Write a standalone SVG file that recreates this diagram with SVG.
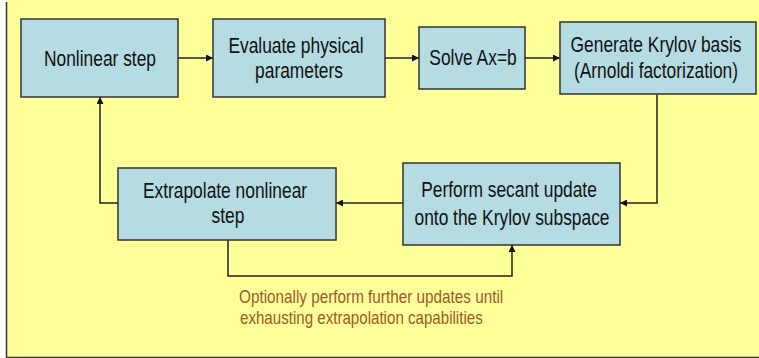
<svg xmlns="http://www.w3.org/2000/svg" width="759" height="358" viewBox="0 0 759 358">
<style>
.box{fill:#B5DCE2;stroke:#333;stroke-width:1.5}
.lbl{font-family:"Liberation Sans",Arial,sans-serif;font-size:22px;fill:#111;text-anchor:middle}
.note{font-family:"Liberation Sans",Arial,sans-serif;font-size:18px;fill:#9B5A2A}
.conn{fill:none;stroke:#222;stroke-width:1.5}
</style>
<defs>
<marker id="ah" viewBox="0 0 10 10" refX="10" refY="5" markerWidth="7" markerHeight="7" markerUnits="userSpaceOnUse" orient="auto">
<path d="M0,0 L10,5 L0,10 z" fill="#111"/>
</marker>
</defs>
<rect x="0" y="0" width="759" height="358" fill="#FFFFFF"/>
<rect x="6" y="0" width="753" height="357" fill="#FFFF99"/>
<path d="M6.5,2 V357.5 H759" fill="none" stroke="#333" stroke-width="1.5"/>

<g id="connectors">
<line class="conn" x1="178" y1="58" x2="213" y2="58" marker-end="url(#ah)"/>
<line class="conn" x1="385" y1="58" x2="419" y2="58" marker-end="url(#ah)"/>
<line class="conn" x1="525" y1="58" x2="560" y2="58" marker-end="url(#ah)"/>
<polyline class="conn" points="657,94 657,203 620,203" marker-end="url(#ah)"/>
<line class="conn" x1="403" y1="203" x2="336" y2="203" marker-end="url(#ah)"/>
<polyline class="conn" points="118,203 100,203 100,97" marker-end="url(#ah)"/>
<polyline class="conn" points="228,240 228,276 512,276 512,245" marker-end="url(#ah)"/>
</g>

<g id="n1">
<rect class="box" x="21" y="19" width="157" height="78"/>
<text class="lbl" transform="translate(100,66) scale(0.79,1)">Nonlinear step</text>
</g>
<g id="n2">
<rect class="box" x="213" y="19" width="172" height="78"/>
<text class="lbl" transform="translate(296,53) scale(0.79,1)">Evaluate physical</text>
<text class="lbl" transform="translate(299,78) scale(0.79,1)">parameters</text>
</g>
<g id="n3">
<rect class="box" x="419" y="27" width="106" height="62"/>
<text class="lbl" transform="translate(473,65) scale(0.79,1)">Solve Ax=b</text>
</g>
<g id="n4">
<rect class="box" x="560" y="22" width="196" height="72"/>
<text class="lbl" transform="translate(656,52) scale(0.79,1)">Generate Krylov basis</text>
<text class="lbl" transform="translate(656,78) scale(0.79,1)">(Arnoldi factorization)</text>
</g>
<g id="n5">
<rect class="box" x="403" y="163" width="217" height="82"/>
<text class="lbl" transform="translate(509,197) scale(0.79,1)">Perform secant update</text>
<text class="lbl" transform="translate(512,225) scale(0.79,1)">onto the Krylov subspace</text>
</g>
<g id="n6">
<rect class="box" x="118" y="168" width="218" height="72"/>
<text class="lbl" transform="translate(225,198) scale(0.79,1)">Extrapolate nonlinear</text>
<text class="lbl" transform="translate(228,223) scale(0.79,1)">step</text>
</g>
<g id="note">
<text class="note" transform="translate(239,303) scale(0.85,1)">Optionally perform further updates until</text>
<text class="note" transform="translate(240,324) scale(0.84,1)">exhausting extrapolation capabilities</text>
</g>
</svg>
